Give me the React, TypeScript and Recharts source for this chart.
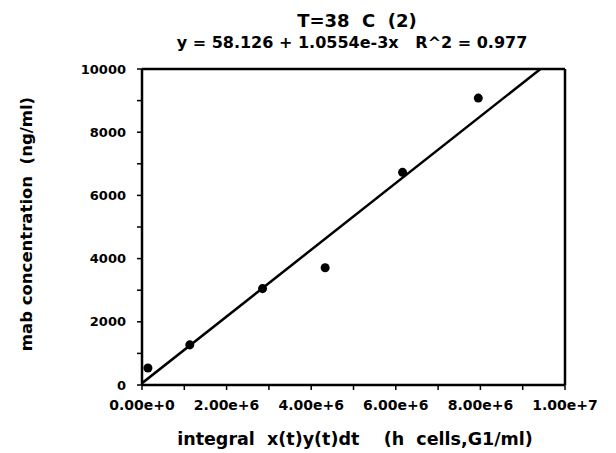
import { ScatterChart, Scatter, XAxis, YAxis, ReferenceLine } from "recharts";

// measured points: integral x(t)y(t)dt vs mab concentration
const xVals = [1.4e5, 1.13e6, 2.85e6, 4.33e6, 6.16e6, 7.95e6];
const yVals = [540, 1270, 3050, 3710, 6730, 9080];

// fit line y = 58.126 + 1.0554e-3x, drawn to where it meets the top of the frame
const fitX = [0, 9.42e6];
const fitY = [58, 10000];

const xTicks = [0, 1e6, 2e6, 3e6, 4e6, 5e6, 6e6, 7e6, 8e6, 9e6, 1e7];
const yTicks = [0, 1000, 2000, 3000, 4000, 5000, 6000, 7000, 8000, 9000, 10000];

const points = xVals.map((x, i) => ({ x, y: yVals[i] }));
const fit = fitX.map((x, i) => ({ x, y: fitY[i] }));

const font = "'DejaVu Sans', sans-serif";
const xTickStyle = { fill: "#000", fontSize: 14, fontWeight: 700, fontFamily: font };
const yTickStyle = { fill: "#000", fontSize: 13, fontWeight: 700, fontFamily: font };

const fmtX = (v: number) => {
  if (Math.round(v / 1e6) % 2 === 1) return "";
  if (v === 0) return "0.00e+0";
  return v.toExponential(2);
};
const fmtY = (v: number) => (Math.round(v / 1000) % 2 === 1 ? "" : String(v));

const centered = (cx: number, cy: number, size: number, rotate = 0): React.CSSProperties => ({
  position: "absolute", left: cx, top: cy, transform: `translate(-50%, -50%) rotate(${rotate}deg)`,
  fontSize: size, fontWeight: 700, whiteSpace: "pre", lineHeight: 1, fontFamily: font
});

export default function App() {
  return (
    <div style={{ position: "absolute", left: 0, top: 0, width: 616, height: 453, background: "#fff" }}>
      <div style={centered(357, 21, 18)}>T=38  C  (2)</div>
      <div style={centered(352, 43, 16)}>y = 58.126 + 1.0554e-3x   R^2 = 0.977</div>
      <div style={centered(355, 440, 17.5)}>integral  x(t)y(t)dt    (h  cells,G1/ml)</div>
      <div style={centered(27, 224, 16.5, -90)}>mab concentration  (ng/ml)</div>
      <ScatterChart width={616} height={453} margin={{ top: 69, right: 51, bottom: 28, left: 80 }}>
        <XAxis type="number" dataKey="x" domain={[0, 1e7]} ticks={xTicks} tickFormatter={fmtX}
          tick={xTickStyle} height={40} tickSize={5} tickMargin={10} axisLine={{ stroke: "#000", strokeWidth: 2.5 }}
          tickLine={{ stroke: "#000", strokeWidth: 1.5 }} interval={0} allowDataOverflow />
        <YAxis type="number" dataKey="y" domain={[0, 10000]} ticks={yTicks} tickFormatter={fmtY}
          tick={yTickStyle} width={62} tickSize={5} tickMargin={11} axisLine={{ stroke: "#000", strokeWidth: 2.5 }}
          tickLine={{ stroke: "#000", strokeWidth: 1.5 }} interval={0} allowDataOverflow />
        <ReferenceLine y={10000} stroke="#000" strokeWidth={2.5} />
        <ReferenceLine x={1e7} stroke="#000" strokeWidth={2.5} />
        <Scatter data={fit} line={{ stroke: "#000", strokeWidth: 2.5 }} shape={() => <g />} isAnimationActive={false} />
        <Scatter data={points} fill="#000" shape="circle" isAnimationActive={false} />
      </ScatterChart>
    </div>
  );
}
